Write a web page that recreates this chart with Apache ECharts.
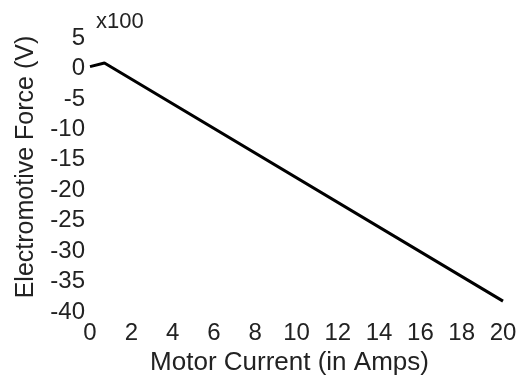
<!DOCTYPE html>
<html style="height: 100%">
<head>
  <meta charset="utf-8">
</head>
<body style="height: 100%; margin: 0; background: #fff">
  <div id="container" style="width: 532px; height: 381px"></div>
  <script type="text/javascript" src="https://cdn.jsdelivr.net/npm/echarts@6/dist/echarts.min.js"></script>
  <script type="text/javascript">
    // motor current (A) vs electromotive force (x100 V)
    var current = [0, 0.7, 20];
    var emf = [0.3, 0.9, -38.2];
    var xTicks = [0, 2, 4, 6, 8, 10, 12, 14, 16, 18, 20];
    var yTicks = [5, 0, -5, -10, -15, -20, -25, -30, -35, -40];

    var dom = document.getElementById('container');
    var myChart = echarts.init(dom, null, { renderer: 'canvas' });
    var font = 'Liberation Sans';
    var option;

    option = {
      backgroundColor: '#fff',
      animation: false,
      grid: { left: 90, right: 29, top: 38, bottom: 65 },
      graphic: [{
        type: 'text',
        left: 96,
        top: 11,
        style: { text: 'x100', fontFamily: font, fontSize: 22, fill: '#222' }
      }],
      xAxis: {
        type: 'value',
        min: xTicks[0],
        max: xTicks[xTicks.length - 1],
        interval: 2,
        name: 'Motor Current (in Amps)',
        nameLocation: 'middle',
        nameGap: 36,
        // nudge the title a little left of the plot centre, as in the source
        nameTextStyle: { fontFamily: font, fontSize: 26, color: '#222', padding: [0, 14, 0, 0] },
        axisLine: { show: false },
        axisTick: { show: false },
        splitLine: { show: false },
        axisLabel: { fontFamily: font, fontSize: 24, color: '#222', margin: 9 }
      },
      yAxis: {
        type: 'value',
        min: yTicks[yTicks.length - 1],
        max: yTicks[0],
        interval: 5,
        name: 'Electromotive Force (V)',
        nameLocation: 'middle',
        nameGap: 51,
        nameTextStyle: { fontFamily: font, fontSize: 25, color: '#222', padding: [0, 0, 0, 16] },
        axisLine: { show: false },
        axisTick: { show: false },
        splitLine: { show: false },
        axisLabel: { fontFamily: font, fontSize: 24, color: '#222', margin: 5 }
      },
      series: [{
        type: 'line',
        data: current.map(function (x, i) { return [x, emf[i]]; }),
        showSymbol: false,
        lineStyle: { color: '#000', width: 3 }
      }]
    };

    if (option && typeof option === 'object') {
      myChart.setOption(option);
    }
  </script>
</body>
</html>
